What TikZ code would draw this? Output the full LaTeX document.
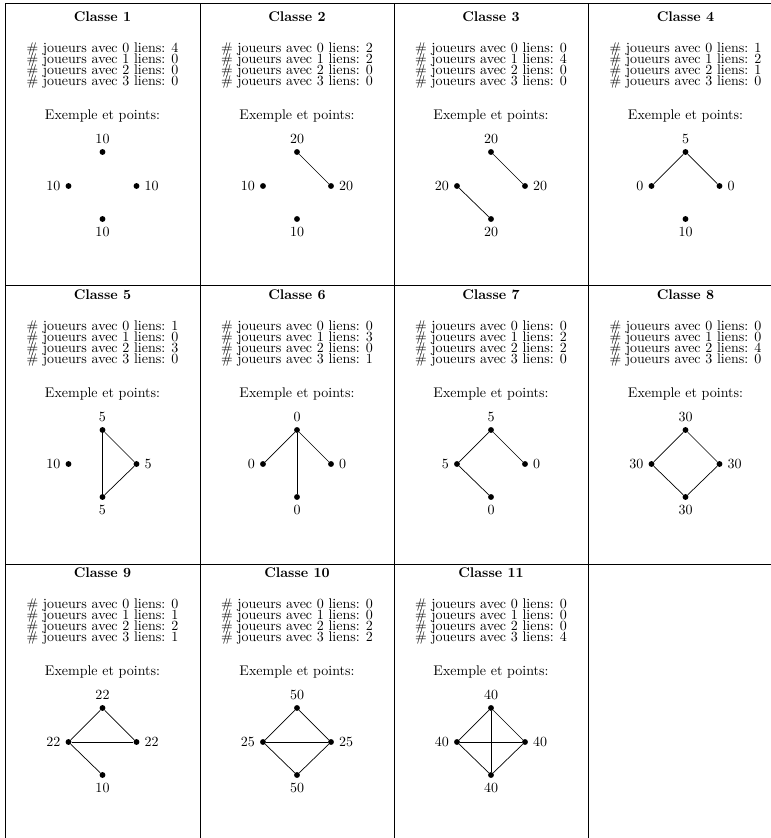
\documentclass[tikz,border=0pt]{standalone}
\usetikzlibrary{positioning}
\tikzset{
  pt/.style={circle,fill=black,inner sep=0pt,minimum size=4.2pt},
  grille/.style={line width=0.6pt},
  lien/.style={line width=0.5pt},
  titre/.style={font=\bfseries},
  compte/.style={inner sep=0pt},
}
\begin{document}
\begin{tikzpicture}[x=0.714pt,y=-0.714pt]
\useasboundingbox (0,0) rectangle (771,838);
% grille du tableau
\draw[grille] (5,838) -- (5,3) -- (771,3);
\foreach \gx in {200,394,588}{\draw[grille] (\gx,3) -- (\gx,838);}
\foreach \gy in {285,564}{\draw[grille] (5,\gy) -- (771,\gy);}
% une case par classe
\foreach \n/\cx/\oy/\na/\nb/\nc/\nd/\pT/\pL/\pR/\pB/\liens in {
  1/102.5/0/4/0/0/0/10/10/10/10/{},
  2/297/0/2/2/0/0/20/10/20/10/{T/R},
  3/491/0/0/4/0/0/20/20/20/20/{T/R,L/B},
  4/685.5/0/1/2/1/0/5/0/0/10/{T/L,T/R},
  5/102.5/278/1/0/3/0/5/10/5/5/{T/R,R/B,T/B},
  6/297/278/0/3/0/1/0/0/0/0/{T/L,T/R,T/B},
  7/491/278/0/2/2/0/5/5/0/0/{T/L,T/R,L/B},
  8/685.5/278/0/0/4/0/30/30/30/30/{T/R,R/B,B/L,L/T},
  9/102.5/556/0/1/2/1/22/22/22/10/{T/L,T/R,L/R,L/B},
  10/297/556/0/0/2/2/50/25/25/50/{T/L,T/R,L/R,L/B,R/B},
  11/491/556/0/0/0/4/40/40/40/40/{T/L,T/R,L/R,L/B,R/B,T/B}}{
  \node[titre] (titre\n) at (\cx,17+\oy) {Classe \n};
  \foreach \k/\v in {0/\na,1/\nb,2/\nc,3/\nd}
    \node[compte] (compte\n-\k) at (\cx,49+11*\k+\oy) {\# joueurs avec \k{} liens: \v};
  \node (ex\n) at (\cx,116+\oy) {Exemple et points:};
  \node[pt,label=above:\pT] (g\n-T) at (\cx,152+\oy) {};
  \node[pt,label=left:\pL] (g\n-L) at (\cx-34,186+\oy) {};
  \node[pt,label=right:\pR] (g\n-R) at (\cx+34,186+\oy) {};
  \node[pt,label=below:\pB] (g\n-B) at (\cx,219+\oy) {};
  \foreach \u/\v in \liens {\draw[lien] (g\n-\u) -- (g\n-\v);}
}
\end{tikzpicture}
\end{document}
